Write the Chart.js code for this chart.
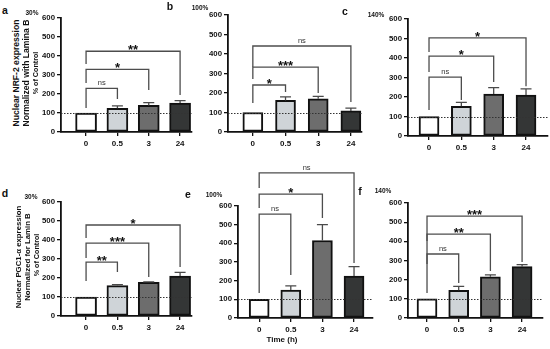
<!DOCTYPE html>
<html><head><meta charset="utf-8">
<script src="https://cdn.jsdelivr.net/npm/chart.js@4"></script>
<style>
html,body{margin:0;padding:0;background:#fff;width:550px;height:349px;overflow:hidden;position:relative;font-family:"Liberation Sans",Arial,sans-serif;}
canvas{position:absolute;}
.t{position:absolute;font-weight:bold;white-space:nowrap;color:#111;line-height:1;}
.c{transform:translate(-50%,-50%);}
.r{transform:translate(-50%,-50%) rotate(-90deg);}
</style></head><body>
<script>
// ---- data ----
const timeLabels = ['0', '0.5', '3', '24'];
const controlLevel = 100;

// NRF-2 (panels a-c)
const nrf2_30 = [100, 125, 140, 152];
const nrf2_30Sem = [0, 12, 15, 13];
const nrf2_100 = [100, 162, 170, 108];
const nrf2_100Sem = [0, 18, 13, 14];
const nrf2_140 = [100, 152, 215, 210];
const nrf2_140Sem = [0, 20, 33, 32];

// PGC1-alpha (panels d-f)
const pgc_30 = [100, 160, 177, 210];
const pgc_30Sem = [0, 5, 3, 20];
const pgc_100 = [100, 150, 415, 225];
const pgc_100Sem = [0, 22, 85, 50];
const pgc_140 = [100, 145, 215, 268];
const pgc_140Sem = [0, 20, 10, 10];

// significance brackets: [from, to, level, leftLegEnd, rightLegEnd, label]
const nrf2_30Sig = [[0,1,230,126,174,'ns'],[0,2,330,258,221,'*'],[0,3,425,358,195,'**']];
const nrf2_100Sig = [[0,1,241,149,205,'*'],[0,2,333,272,200,'***'],[0,3,441,333,154,'ns']];
const nrf2_140Sig = [[0,1,302,133,185,'ns'],[0,2,410,328,277,'*'],[0,3,503,431,255,'*']];
const pgc_30Sig = [[0,1,284,184,232,'**'],[0,2,384,305,205,'***'],[0,3,479,410,258,'*']];
const pgc_100Sig = [[0,1,557,134,230,'ns'],[0,2,664,589,536,'*'],[0,3,777,696,295,'ns']];
const pgc_140Sig = [[0,1,334,130,183,'ns'],[0,2,438,282,245,'**'],[0,3,532,402,292,'***']];

const barColors = ['#ffffff', '#cfd4d8', '#6d6d6d', '#343636'];

// ---- layout (pixels) ----
const panels = [
  {vals:nrf2_30, sem:nrf2_30Sem, br:nrf2_30Sig, ax:61, rx:192, ty:18, by:132, xmin:-0.8, xmax:3.38, bw:21, pt:8},
  {vals:nrf2_100, sem:nrf2_100Sem, br:nrf2_100Sig, ax:228, rx:362, ty:15, by:132, xmin:-0.76, xmax:3.34, bw:20, pt:8},
  {vals:nrf2_140, sem:nrf2_140Sem, br:nrf2_140Sig, ax:408, rx:548, ty:19, by:136, xmin:-0.65, xmax:3.68, bw:20, pt:8},
  {vals:pgc_30, sem:pgc_30Sem, br:pgc_30Sig, ax:61, rx:192, ty:202, by:316, xmin:-0.8, xmax:3.38, bw:21, pt:10},
  {vals:pgc_100, sem:pgc_100Sem, br:pgc_100Sig, ax:238, rx:373, ty:206, by:318, xmin:-0.67, xmax:3.6, bw:20, pt:46},
  {vals:pgc_140, sem:pgc_140Sem, br:pgc_140Sig, ax:408, rx:543, ty:203, by:318, xmin:-0.6, xmax:3.66, bw:20, pt:10}
];

const FONT = '"Liberation Sans", Arial, sans-serif';

function annot(p) {
  return {
    id: 'annot',
    afterDatasetsDraw(chart) {
      const {ctx, chartArea: ca} = chart;
      const x = chart.scales.x, y = chart.scales.y;
      ctx.save();
      // control reference line
      const yc = Math.round(y.getPixelForValue(controlLevel)) + 0.5;
      ctx.strokeStyle = '#333'; ctx.lineWidth = 1; ctx.setLineDash([1.5, 1.5]);
      ctx.beginPath(); ctx.moveTo(ca.left, yc); ctx.lineTo(ca.right, yc); ctx.stroke();
      ctx.setLineDash([]);
      // error bars (upper)
      ctx.strokeStyle = '#4a4a4a'; ctx.lineWidth = 1.3;
      p.vals.forEach((v, i) => {
        if (!p.sem[i]) return;
        const xc = x.getPixelForValue(i);
        const y0 = y.getPixelForValue(v), y1 = y.getPixelForValue(v + p.sem[i]);
        ctx.beginPath();
        ctx.moveTo(xc, y0); ctx.lineTo(xc, y1);
        ctx.moveTo(xc - 5.5, y1); ctx.lineTo(xc + 5.5, y1);
        ctx.stroke();
      });
      // significance brackets
      p.br.forEach(([a, b, lev, lb, rb, lab]) => {
        const xa = x.getPixelForValue(a), xb = x.getPixelForValue(b);
        const yl = y.getPixelForValue(lev);
        ctx.strokeStyle = '#4d4d4d'; ctx.lineWidth = 1.3;
        ctx.beginPath();
        ctx.moveTo(xa, y.getPixelForValue(lb)); ctx.lineTo(xa, yl);
        ctx.lineTo(xb, yl); ctx.lineTo(xb, y.getPixelForValue(rb));
        ctx.stroke();
        ctx.textAlign = 'center'; ctx.textBaseline = 'alphabetic';
        if (lab === 'ns') {
          ctx.fillStyle = '#333'; ctx.font = '7.5px ' + FONT;
          ctx.fillText(lab, (xa + xb) / 2, yl - 3);
        } else {
          ctx.fillStyle = '#111'; ctx.font = 'bold 13px ' + FONT;
          ctx.fillText(lab, (xa + xb) / 2, yl + 3);
        }
      });
      ctx.restore();
    }
  };
}

const YW = 32, XH = 24, PR = 4;
panels.forEach(p => {
  const cv = document.createElement('canvas');
  const w = p.rx - p.ax + YW + PR, h = p.by - p.ty + p.pt + XH;
  cv.width = w; cv.height = h;
  cv.style.left = (p.ax - YW) + 'px'; cv.style.top = (p.ty - p.pt) + 'px';
  cv.style.width = w + 'px'; cv.style.height = h + 'px';
  document.body.appendChild(cv);
  new Chart(cv, {
    type: 'bar',
    data: {datasets: [{
      data: p.vals.map((v, i) => ({x: i, y: v})),
      backgroundColor: barColors, borderColor: '#111', borderWidth: 2,
      barThickness: p.bw, borderSkipped: false
    }]},
    options: {
      responsive: false, animation: false, devicePixelRatio: 1,
      layout: {padding: {top: p.pt, right: PR, left: 0, bottom: 0}},
      plugins: {legend: {display: false}, tooltip: {enabled: false}},
      scales: {
        x: {
          type: 'linear', min: p.xmin, max: p.xmax, offset: false,
          afterBuildTicks: s => { s.ticks = [0, 1, 2, 3].map(v => ({value: v})); },
          afterFit: s => { s.height = XH; s.paddingLeft = 0; s.paddingRight = 0; },
          ticks: {callback: v => timeLabels[v], font: {family: FONT, size: 8, weight: 'bold'}, color: '#111', padding: 3, maxRotation: 0, autoSkip: false},
          grid: {drawOnChartArea: false, drawTicks: true, tickLength: 4, color: '#111', lineWidth: 1.3, offset: false},
          border: {color: '#111', width: 1.8}
        },
        y: {
          min: 0, max: 600,
          afterFit: s => { s.width = YW; },
          ticks: {stepSize: 100, font: {family: FONT, size: 7.8, weight: 'bold'}, color: '#111', padding: 2},
          grid: {drawOnChartArea: false, drawTicks: true, tickLength: 4, color: '#111', lineWidth: 1.3},
          border: {color: '#111', width: 1.8}
        }
      }
    },
    plugins: [annot(p)]
  });
});

// ---- text ----
function txt(s, x, y, size, cls, extra) {
  const d = document.createElement('div');
  d.className = 't ' + cls; d.textContent = s;
  d.style.left = x + 'px'; d.style.top = y + 'px'; d.style.fontSize = size + 'px';
  if (extra) Object.assign(d.style, extra);
  document.body.appendChild(d);
}
[['a',5,10],['b',170,6],['c',345,11],['d',5,193],['e',188,194],['f',360,191]].forEach(([s,x,y]) => txt(s, x, y, 10.5, 'c'));
[['30%',32,13],['100%',200,7.5],['140%',376,15],['30%',31,197],['100%',214,195],['140%',383,191]].forEach(([s,x,y]) => txt(s, x, y, 6.5, 'c'));
txt('Nuclear NRF-2 expression', 16, 73, 8.6, 'r');
txt('Normalized with Lamina B', 26, 73, 8.6, 'r');
txt('% of Control', 36, 73, 7.2, 'r');
txt('Nuclear PGC1-\u03B1 expression', 19, 257, 7.8, 'r');
txt('Normalized for Lamin B', 28, 257, 7.8, 'r');
txt('% of Control', 36.5, 255, 7.2, 'r');
txt('Time (h)', 282, 340, 8, 'c');
</script>
</body></html>
